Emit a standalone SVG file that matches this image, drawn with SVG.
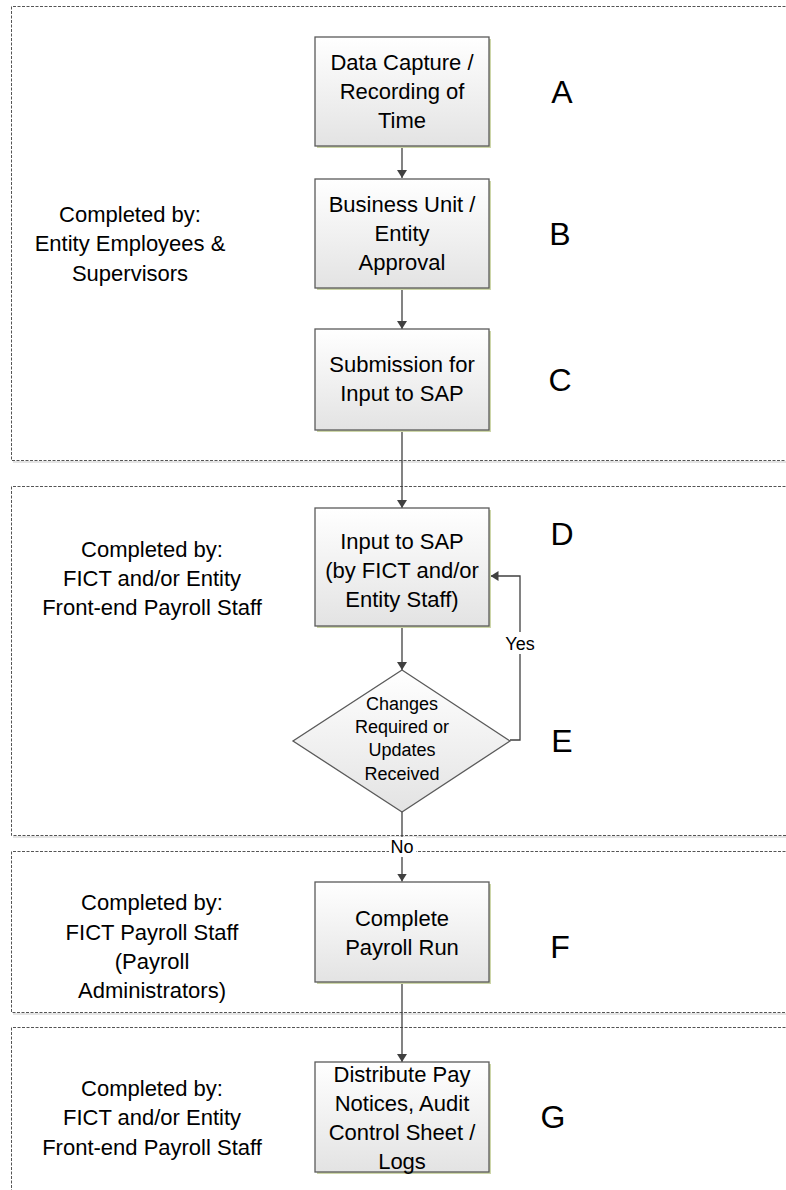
<svg xmlns="http://www.w3.org/2000/svg" width="786" height="1190" viewBox="0 0 786 1190">
<style>
.t{font-family:"Liberation Sans",Arial,sans-serif;font-size:22px;fill:#000;text-anchor:middle}
.s{font-family:"Liberation Sans",Arial,sans-serif;font-size:18px;fill:#000;text-anchor:middle}
.L{font-family:"Liberation Sans",Arial,sans-serif;font-size:32px;fill:#000;text-anchor:middle}
.box{fill:url(#g);stroke:#5a5a5a;stroke-width:1.3}
.sh{fill:#cdd6a8}
.sec{fill:none;stroke:#555;stroke-width:1;stroke-dasharray:3 1.5}
.secsh{fill:none;stroke:#e4e4e4;stroke-width:2}
.c{fill:none;stroke:#404040;stroke-width:1.3}
.lbl{fill:#fff}
</style>
<defs>
<linearGradient id="g" x1="0" y1="0" x2="0" y2="1">
<stop offset="0" stop-color="#ffffff"/>
<stop offset="1" stop-color="#e3e3e3"/>
</linearGradient>
<marker id="ar" viewBox="0 0 10 10" refX="10" refY="5" markerWidth="7" markerHeight="7" markerUnits="userSpaceOnUse" orient="auto">
<path d="M0,0 L10,5 L0,10 z" fill="#404040"/>
</marker>
<marker id="arw" viewBox="0 0 10 10" refX="10" refY="5" markerWidth="8" markerHeight="10" markerUnits="userSpaceOnUse" orient="auto" preserveAspectRatio="none">
<path d="M0,0 L10,5 L0,10 z" fill="#404040"/>
</marker>
</defs>

<g id="sections">
<path class="secsh" d="M13,462 H790 M13,837 H790 M13,1014 H790"/>
<path class="sec" d="M790,6.5 H11.5 V460.5 H790"/>
<path class="sec" d="M790,486.5 H11.5 V835.5 H790"/>
<path class="sec" d="M790,851.5 H11.5 V1012.5 H790"/>
<path class="sec" d="M790,1027.5 H11.5 V1195"/>
</g>

<g id="labels">
<text class="t" x="130" y="221.5">Completed by:</text>
<text class="t" x="130" y="251">Entity Employees &amp;</text>
<text class="t" x="130" y="280.5">Supervisors</text>
<text class="t" x="152" y="557">Completed by:</text>
<text class="t" x="152" y="586">FICT and/or Entity</text>
<text class="t" x="152" y="615">Front-end Payroll Staff</text>
<text class="t" x="152" y="910">Completed by:</text>
<text class="t" x="152" y="939.5">FICT Payroll Staff</text>
<text class="t" x="152" y="969">(Payroll</text>
<text class="t" x="152" y="998">Administrators)</text>
<text class="t" x="152" y="1096">Completed by:</text>
<text class="t" x="152" y="1125">FICT and/or Entity</text>
<text class="t" x="152" y="1155">Front-end Payroll Staff</text>
<text class="L" x="562" y="103">A</text>
<text class="L" x="560" y="245">B</text>
<text class="L" x="560" y="391">C</text>
<text class="L" x="562" y="545">D</text>
<text class="L" x="562" y="752">E</text>
<text class="L" x="560" y="958">F</text>
<text class="L" x="553" y="1128">G</text>
</g>

<g id="connectors">
<line class="c" x1="402" y1="146" x2="402" y2="178" marker-end="url(#arw)"/>
<line class="c" x1="402" y1="288" x2="402" y2="329" marker-end="url(#arw)"/>
<line class="c" x1="402" y1="430" x2="402" y2="508" marker-end="url(#arw)"/>
<line class="c" x1="402" y1="626" x2="402" y2="670" marker-end="url(#arw)"/>
<line class="c" x1="402" y1="812" x2="402" y2="881.5" marker-end="url(#arw)"/>
<line class="c" x1="402" y1="982" x2="402" y2="1062" marker-end="url(#arw)"/>
<polyline class="c" points="510,740 520,740 520,576 490.5,576" marker-end="url(#arw)"/>
<rect class="lbl" x="389" y="837" width="27" height="20"/>
<text class="s" x="402" y="853">No</text>
<rect class="lbl" x="503" y="632" width="34" height="22"/>
<text class="s" x="520" y="650">Yes</text>
</g>

<g id="nodeA">
<rect class="sh" x="317" y="39" width="174" height="109"/>
<rect class="box" x="315" y="37" width="174" height="109"/>
<text class="t" x="402" y="70">Data Capture /</text>
<text class="t" x="402" y="99">Recording of</text>
<text class="t" x="402" y="128">Time</text>
</g>

<g id="nodeB">
<rect class="sh" x="317" y="181" width="174" height="109"/>
<rect class="box" x="315" y="179" width="174" height="109"/>
<text class="t" x="402" y="212">Business Unit /</text>
<text class="t" x="402" y="241">Entity</text>
<text class="t" x="402" y="270">Approval</text>
</g>

<g id="nodeC">
<rect class="sh" x="317" y="331" width="174" height="101"/>
<rect class="box" x="315" y="329" width="174" height="101"/>
<text class="t" x="402" y="372">Submission for</text>
<text class="t" x="402" y="401">Input to SAP</text>
</g>

<g id="nodeD">
<rect class="sh" x="317" y="510" width="174" height="118"/>
<rect class="box" x="315" y="508" width="174" height="118"/>
<text class="t" x="402" y="549">Input to SAP</text>
<text class="t" x="402" y="578">(by FICT and/or</text>
<text class="t" x="402" y="607">Entity Staff)</text>
</g>

<g id="nodeE">
<polygon class="box" points="402,670 510,741 402,812 293,741"/>
<text class="s" x="402" y="710">Changes</text>
<text class="s" x="402" y="733">Required or</text>
<text class="s" x="402" y="756">Updates</text>
<text class="s" x="402" y="779.5">Received</text>
</g>

<g id="nodeF">
<rect class="sh" x="317" y="884" width="174" height="100"/>
<rect class="box" x="315" y="882" width="174" height="100"/>
<text class="t" x="402" y="926">Complete</text>
<text class="t" x="402" y="955">Payroll Run</text>
</g>

<g id="nodeG">
<rect class="sh" x="317" y="1064" width="174" height="110"/>
<rect class="box" x="315" y="1062" width="174" height="110"/>
<text class="t" x="402" y="1082">Distribute Pay</text>
<text class="t" x="402" y="1111">Notices, Audit</text>
<text class="t" x="402" y="1140">Control Sheet /</text>
<text class="t" x="402" y="1169">Logs</text>
</g>
</svg>
